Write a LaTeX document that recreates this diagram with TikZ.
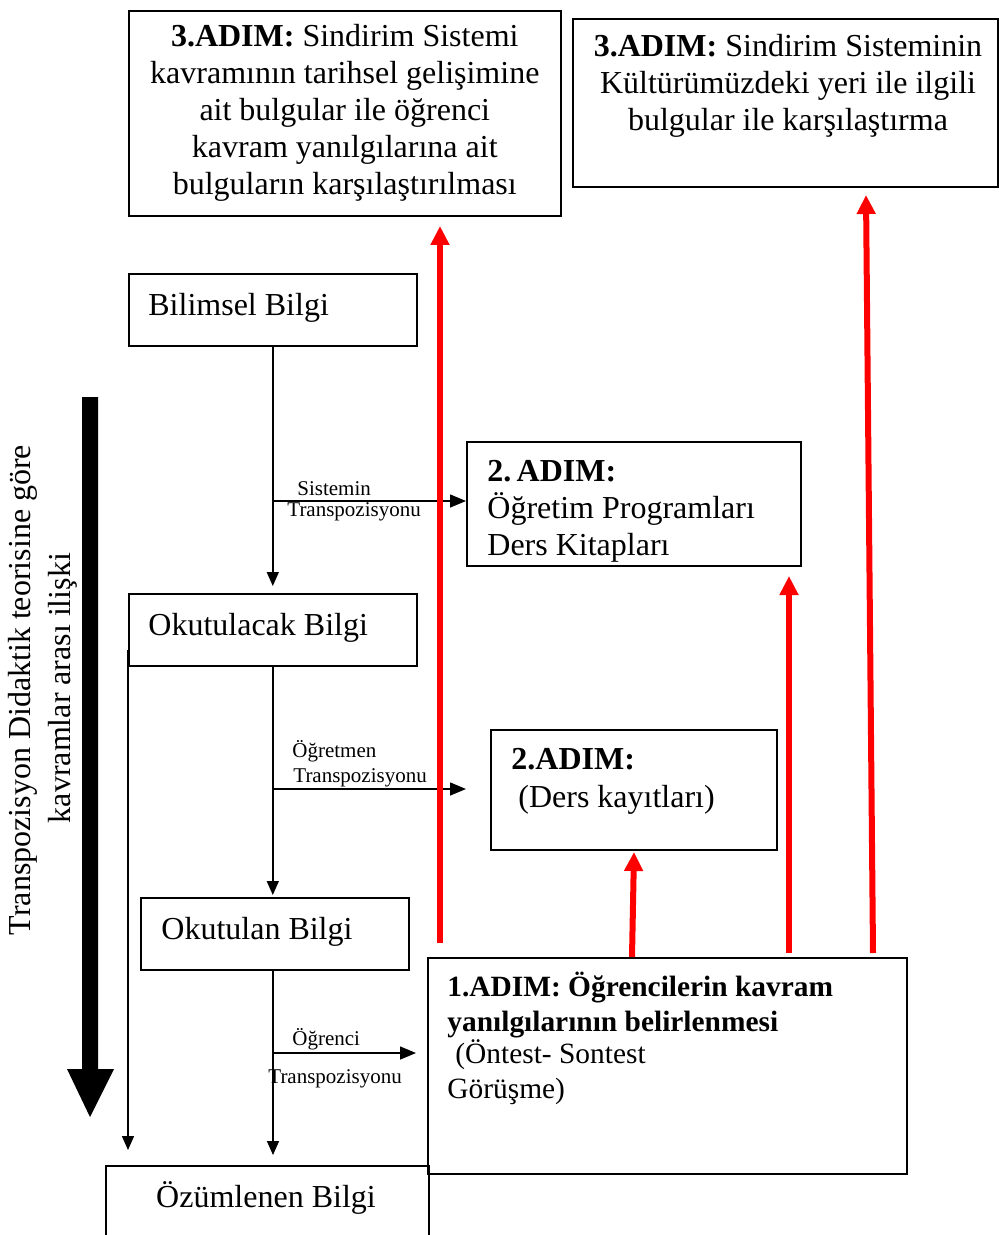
\documentclass[tikz,border=0pt]{standalone}
\usepackage{fontspec}
\setmainfont{Liberation Serif}
\usetikzlibrary{arrows.meta}
\newcommand\bigtxt{\fontsize{16pt}{18.5pt}\selectfont}
\newcommand\midtxt{\fontsize{14.7pt}{17pt}\selectfont}
\newcommand\smalltxt{\fontsize{10.5pt}{12pt}\selectfont}
\begin{document}
\begin{tikzpicture}[x=0.5pt,y=-0.5pt,
  box/.style={draw, line width=0.8pt, inner sep=0pt, anchor=north west},
  big/.style={font=\bigtxt, inner sep=0pt},
  mid/.style={font=\midtxt, inner sep=0pt, anchor=base west},
  small/.style={font=\smalltxt, inner sep=0pt, anchor=base west},
  arr/.style={line width=0.75pt, -{Triangle[width=6pt,length=7pt]}},
  harr/.style={line width=0.75pt, -{Triangle[width=6.5pt,length=8pt]}},
  redarr/.style={draw=red, line width=3pt, -{Triangle[width=9pt,length=9.5pt]}}]
\useasboundingbox (0,0) rectangle (998,1235);

% boxes
\node[box, minimum width=216pt, minimum height=102.5pt, align=center, font=\bigtxt] (b3a) at (128,10)
  {\textbf{3.ADIM:} Sindirim Sistemi\\kavramının tarihsel gelişimine\\ait bulgular ile öğrenci\\kavram yanılgılarına ait\\bulguların karşılaştırılması};
\node[box, minimum width=212.5pt, minimum height=84pt] (b3b) at (572,18) {};
\node[big, align=center] (t3b) at (788,86)
  {\textbf{3.ADIM:} Sindirim Sisteminin\\Kültürümüzdeki yeri ile ilgili\\bulgular ile karşılaştırma};

\node[box, minimum width=144pt, minimum height=36pt] (bil) at (128,273) {};
\node[big, anchor=base west] (tbil) at (148,315) {Bilimsel Bilgi};

\node[box, minimum width=167pt, minimum height=62pt] (b2a) at (466,441) {};
\node[big, anchor=base west] (t2a1) at (487,481) {\textbf{2.\,ADIM:}};
\node[big, anchor=base west] (t2a2) at (487,518) {Öğretim Programları};
\node[big, anchor=base west] (t2a3) at (487,555) {Ders Kitapları};

\node[box, minimum width=144pt, minimum height=36pt] (oku) at (128,593) {};
\node[big, anchor=base west] (toku) at (148,635) {Okutulacak Bilgi};

\node[box, minimum width=143pt, minimum height=60pt] (b2b) at (490,729) {};
\node[big, anchor=base west] (t2b1) at (511,769) {\textbf{2.ADIM:}};
\node[big, anchor=base west] (t2b2) at (518,807) {(Ders kayıtları)};

\node[box, minimum width=134pt, minimum height=36pt] (okn) at (140,897) {};
\node[big, anchor=base west] (tokn) at (161,939) {Okutulan Bilgi};

\node[box, minimum width=239.5pt, minimum height=108pt] (b1) at (427,957) {};
\node[mid] (t11) at (447,996) {\textbf{1.ADIM: Öğrencilerin kavram}};
\node[mid] (t12) at (447,1031) {\textbf{yanılgılarının belirlenmesi}};
\node[mid] (t13) at (455,1063) {(Öntest- Sontest};
\node[mid] (t14) at (447,1098) {Görüşme)};

\node[box, minimum width=161.5pt, minimum height=50pt] (ozu) at (105,1165) {};
\node[big, anchor=base] (tozu) at (266,1207) {Özümlenen Bilgi};

% main chain of transpositions
\draw[arr, shorten >=3.5pt] (bil.south) -- (oku.north);
\draw[arr, shorten >=1pt] (oku.south) -- (oku.south |- okn.north);
\coordinate (v3) at (273,969);
\draw[arr, shorten >=5pt] (v3) -- (v3 |- ozu.north);

\coordinate (h1) at (272,501);
\coordinate (h2) at (274,789);
\coordinate (h3) at (273,1053);
\coordinate (h3e) at (416,1053);
\draw[harr] (h1) -- (h1 -| b2a.west);
\draw[harr] (h2) -- (h2 -| b2a.west);
\draw[harr] (h3) -- (h3e);

\node[small] (s1a) at (297,495) {Sistemin};
\node[small] (s1b) at (287,516) {Transpozisyonu};
\node[small] (s2a) at (292,757) {Öğretmen};
\node[small] (s2b) at (293,782) {Transpozisyonu};
\node[small] (s3a) at (292,1045) {Öğrenci};
\node[small] (s3b) at (268,1083) {Transpozisyonu};

% side line from the taught knowledge down to the assimilated one
\coordinate (lt) at (128,650);
\coordinate (lb) at (128,1150);
\draw[arr] (lt) -- (lb);

% thick arrow and its caption
\fill (82,397) -- (98,397) -- (98,1069) -- (114,1069) -- (90,1117) -- (67,1069) -- (82,1069) -- cycle;
\node[big, rotate=90] (rot1) at (23,690) {Transpozisyon Didaktik teorisine göre};
\node[big, rotate=90] (rot2) at (63,688) {kavramlar arası ilişki};

% red links from step 1
\coordinate (r1a) at (440,943);  \coordinate (r1b) at (440,226);
\coordinate (r2a) at (632,957);  \coordinate (r2b) at (634,852);
\coordinate (r3a) at (789,953);  \coordinate (r3b) at (789,576);
\coordinate (r4a) at (873,953);  \coordinate (r4b) at (866,195);
\draw[redarr] (r1a) -- (r1b);
\draw[redarr] (r2a) -- (r2b);
\draw[redarr] (r3a) -- (r3b);
\draw[redarr] (r4a) -- (r4b);
\end{tikzpicture}
\end{document}
